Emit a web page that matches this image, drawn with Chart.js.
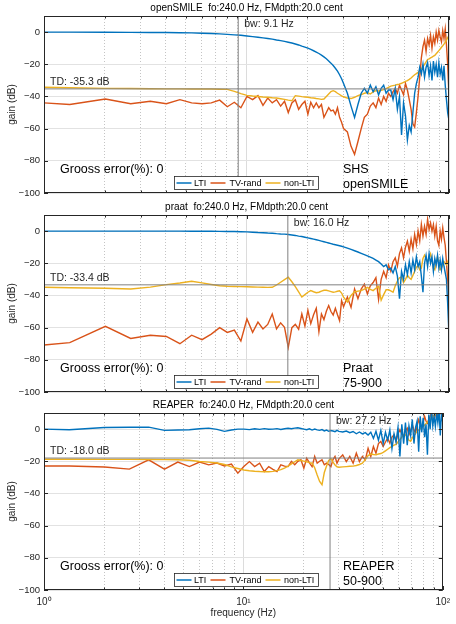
<!DOCTYPE html>
<html>
<head>
<meta charset="utf-8">
<script src="https://cdn.jsdelivr.net/npm/chart.js@4.4.0/dist/chart.umd.min.js"></script>
<style>
    body { margin: 0; background: #fff; }
    #wrap { position: relative; width: 456px; height: 624px; }
    #wrap canvas { position: absolute; left: 0; top: 0; }
</style>
</head>
<body>
<div id="wrap">
    <canvas id="panel-0" width="456" height="624"></canvas>
    <canvas id="panel-1" width="456" height="624"></canvas>
    <canvas id="panel-2" width="456" height="624"></canvas>
</div>
<script>
// modulation frequency grid (Hz), shared by every panel
const freq = [
    1.00, 1.34, 2.01, 2.68, 3.35, 4.02, 4.69, 5.36, 6.03, 6.70,
    7.37, 8.04, 8.71, 9.38, 10.05, 10.72, 11.39, 12.06, 12.73, 13.40,
    14.07, 14.74, 15.41, 16.08, 16.75, 17.42, 18.09, 18.76, 19.43, 20.10,
    20.77, 21.44, 22.11, 22.78, 23.45, 24.12, 24.79, 25.46, 26.13, 26.80,
    27.47, 28.14, 28.81, 29.48, 30.15, 31.49, 32.83, 34.17, 35.51, 36.85,
    38.19, 39.53, 40.87, 42.21, 43.55, 44.89, 46.23, 47.57, 48.91, 50.25,
    51.59, 52.93, 54.27, 55.61, 56.95, 58.29, 59.63, 60.97, 62.31, 63.65,
    64.99, 66.33, 67.67, 69.01, 70.35, 71.69, 73.03, 74.37, 75.71, 77.05,
    78.39, 79.73, 81.07, 82.41, 83.75, 85.09, 86.43, 87.77, 89.11, 90.45,
    91.79, 93.13, 94.47, 95.81, 97.15, 98.49, 100.0
];

// openSMILE (SHS)
const lti1 = [
    0, 0, -0.1, -0.2, -0.3, -0.3, -0.4, -0.5, -0.7, -0.9,
    -1.1, -1.4, -1.7, -2.0, -2.4, -2.8, -3.2, -3.6, -4.0, -4.4,
    -4.9, -5.3, -5.8, -6.3, -6.8, -7.4, -8.0, -8.7, -9.3, -10.0,
    -10.8, -11.6, -12.4, -13.3, -14.3, -15.4, -16.6, -17.9, -19.3, -20.8,
    -22.5, -24.3, -26.5, -29.0, -32.0, -38, -46, -53, -45, -38,
    -35, -38, -33, -37, -34, -39, -35, -33, -38, -36,
    -36, -42, -35, -48, -40, -64, -44, -52, -67, -58,
    -62, -50, -38, -32, -28, -22, -26, -20, -28, -22,
    -19, -27, -21, -30, -18, -25, -20, -28, -19, -26,
    -22, -30, -21, -33, -42, -50, -55
];
const tv1 = [
    -44, -45, -41.6, -44.5, -43, -44.5, -42, -44, -44.5, -44,
    -42.3, -46.4, -43.6, -47, -40, -42, -39.5, -45.5, -41, -44,
    -42, -46, -43, -50, -44, -42, -48, -45, -43, -51,
    -43.6, -47, -44, -47, -45, -53, -50, -47, -49, -48.5,
    -51, -47, -53, -56, -60, -62, -71, -76, -68, -60,
    -53, -51, -46, -44, -47, -41, -45, -40, -43, -38,
    -40, -37, -35, -38, -33, -36, -39, -32, -36, -42,
    -48, -57, -59, -50, -40, -28, -16, -9, -5, -12,
    -4, -8, -2, -10, -3, -7, 0, -5, 1, -3,
    -6, 1, -4, 2, -8, -20, -40
];
const nl1 = [
    -34.3, -34.6, -35, -35.1, -35.2, -35.3, -35.3, -35.4, -35.4, -35.4,
    -35.5, -35.6, -36.8, -38.2, -39.3, -39.7, -40.0, -40.3, -40.5, -40.8,
    -41.0, -41.4, -41.8, -42.3, -42.7, -39.5, -39.8, -40.1, -40.3, -40.5,
    -40.8, -41.0, -41.3, -41.5, -41.8, -41.6, -40, -38.5, -37, -36.4,
    -37, -38, -38.8, -39.6, -40.2, -41, -41.3, -40.5, -39.5, -38.8,
    -38, -37.6, -38.5, -37.2, -36.4, -36.6, -36.2, -35.8, -35.2, -34.4,
    -33.6, -33.3, -33, -32.6, -32.3, -31.8, -31.2, -30.6, -30.2, -29.4,
    -28.5, -27.5, -26.5, -25.8, -25, -24, -23, -21.5, -20, -18.5,
    -17, -16.6, -16, -15.5, -15, -14.5, -13.5, -12.5, -11.5, -10.5,
    -9.4, -8.5, -7.5, -6.5, -5, -3.5, -2
];

// praat
const lti2 = [
    0, 0, 0, 0, 0, 0, 0, -0.1, -0.1, -0.1,
    -0.2, -0.3, -0.3, -0.4, -0.5, -0.7, -0.9, -1.0, -1.2, -1.3,
    -1.6, -1.8, -1.9, -2.1, -2.4, -2.7, -3.1, -3.4, -3.8, -4.2,
    -4.6, -5.0, -5.4, -5.8, -6.2, -6.6, -7.0, -7.4, -7.8, -8.2,
    -8.5, -8.8, -9.1, -9.4, -9.8, -10.6, -11.4, -12.2, -13.0, -13.8,
    -14.6, -15.4, -16.2, -17, -18, -19, -20.5, -22, -21, -24,
    -23, -26, -22, -28, -42, -25, -30, -21, -27, -19,
    -26, -18, -24, -16, -22, -19, -28, -38, -20, -15,
    -22, -14, -20, -16, -25, -17, -21, -15, -23, -18,
    -24, -17, -22, -26, -30, -45, -65
];
const tv2 = [
    -70.8, -69.3, -59.2, -66.7, -64.7, -65.5, -70, -64.7, -67.5, -64,
    -60, -63, -61.5, -68.3, -54.6, -62.9, -56.6, -60.8, -58, -51.5,
    -60.8, -57, -59.8, -72.3, -60, -58, -61, -51.5, -59, -49.2,
    -57.5, -52, -48, -62.6, -51.5, -55, -49.8, -46.3, -50, -52.2,
    -48, -52, -55.6, -43.2, -47, -41, -47.4, -36, -42, -36,
    -33, -39, -34, -32, -29, -42.5, -30, -25, -29, -21,
    -25, -19, -16.6, -21.8, -14, -10.4, -16.6, -10, -6.2, -12.5,
    -5, -11, -2.1, -8.3, 0, -6, 4.2, -3, 3, -2,
    7.3, 1, 5, 0, 4, -3, 3, -6, -8.8, 0,
    -5, 2, -4, -8.8, -19.3, -30, -44
];
const nl2 = [
    -34.9, -35.2, -35.5, -36.0, -34.8, -33.3, -32.3, -31.2, -32.2, -33.2,
    -34, -34.3, -34.4, -34.5, -34.6, -34.7, -34.8, -34.9, -35, -34.9,
    -33.5, -31.8, -30.2, -28.7, -31.5, -34.5, -37.8, -41, -39.5, -38,
    -37, -37.7, -38.3, -38, -37.3, -36.8, -36.8, -37.2, -37.6, -38,
    -37.8, -37.4, -37.1, -38.5, -41, -44, -40, -37.7, -37.3, -37,
    -36, -35, -36.2, -37, -35.5, -34.3, -43, -39.5, -36.5, -36.5,
    -37.2, -38, -34, -31, -29, -28.5, -32, -30, -27.4, -29,
    -30, -27.5, -25, -22.5, -21.4, -24, -23, -17, -15, -17,
    -19, -16.5, -14, -18, -23, -24, -20, -16, -20, -24,
    -23, -21, -19, -20, -21, -19, -17
];

// REAPER
const lti3 = [
    0, -0.4, 1, 1.1, 1.2, -0.8, -0.6, -0.4, 0.2, 0.6,
    -0.2, -1.4, -0.6, 0, 0, -0.3, 0.2, -0.2, 0.3, -0.1,
    0, 0.3, -0.2, 0.2, 0.5, 0.2, 0.6, 0.8, 0.4, 0,
    -0.4, 0.2, -0.6, 0, -0.5, -0.8, -0.3, -1.1, -0.6, -1.4,
    -0.9, -1.2, -1.6, -0.8, -1.4, -1.8, -1.2, -2.2, -1.5, -2.9,
    -1.8, -3, -2.2, -3.7, -2, -5.8, -1.4, -6.9, -0.8, -9,
    -2, -7, -0.5, -12, -3, -8, 1, -17, 3, -9,
    4, -10, 2, -4, 6, -9, 1, 5, -14, 8,
    -2, 7, -5, 3, -16, 9, 0, 12, 2, 8,
    1.6, 10, 4, 12, -4, 10, 4
];
const tv3 = [
    -22.9, -22.9, -23.6, -24.9, -19.1, -24.9, -20.5, -23.3, -20.5, -22.2,
    -21.1, -22.9, -21.8, -27.4, -23.3, -20.2, -23.3, -21.2, -26.4, -23.3,
    -25, -26.4, -22.2, -23, -23.3, -20, -22.2, -20, -19.1, -24.3,
    -18.1, -21, -23.3, -17, -21.2, -20, -19.1, -22.2, -21.2, -22,
    -23.3, -19, -17, -21.2, -18.5, -16, -20.2, -17, -21.2, -15,
    -20.2, -17, -19.1, -11.9, -17, -10.8, -15, -9, -7.7, -10.8,
    -8, -5.6, -8.7, -5, -3.6, -7.7, -3, -0.4, -3, -4.6,
    -1, 0.6, -3.6, -1, 2.7, -0.5, -2.5, 2, 5.8, 3,
    0.6, 4, 7.9, 5, 3.7, 6, 8, 10, 7, 5.8,
    9, 10.5, 8, 10, 11, 9, 7.9
];
const nl3 = [
    -18.7, -18.7, -18.8, -18.8, -18.9, -19, -19.1, -19.4, -20.1, -20.5,
    -21.1, -22, -23.5, -24.5, -25.4, -25.9, -26.2, -26.4, -26.5, -26.5,
    -26.3, -25.8, -25.2, -24.2, -23, -21.6, -20.3, -19.1, -19.5, -19.9,
    -20.3, -20.8, -21.2, -24, -28.5, -32.5, -34.6, -27, -23, -19.5,
    -18.3, -20.5, -22.3, -23.4, -23.7, -23.5, -23.3, -23.1, -23, -22.6,
    -22, -21.2, -19, -16.5, -15.5, -15.8, -16, -15.5, -15.2, -14.5,
    -13.5, -12.5, -11.5, -10.8, -10, -9.5, -8, -6.5, -5, -3.8,
    -3.6, -5, -7, -7.6, -5.5, -4, -2.5, -1.5, -0.5, 0.3,
    0.8, 1.5, 2.5, 3.5, 4.5, 5.2, 5.8, 6.8, 7.8, 8.5,
    9.2, 10, 10.5, 11, 11.5, 12, 12
];

const panelTitles = [
    'openSMILE  fo:240.0 Hz, FMdpth:20.0 cent',
    'praat  fo:240.0 Hz, FMdpth:20.0 cent',
    'REAPER  fo:240.0 Hz, FMdpth:20.0 cent'
];
const seriesNames = ['LTI', 'TV-rand', 'non-LTI'];
const tdValues = [-35.3, -33.4, -18.0];
const bwValues = [9.1, 16.0, 27.2];
const grossErrors = [0, 0, 0];
const methodLabels = [['SHS', 'openSMILE'], ['Praat', '75-900'], ['REAPER', '50-900']];
const xTicks = [1, 2, 3, 4, 5, 6, 7, 8, 9, 10, 20, 30, 40, 50, 60, 70, 80, 90, 100];
const xMajor = [1, 10, 100];
const xTickLabels = ['10\u2070', '10\u00b9', '10\u00b2'];
const yTicks = [-100, -80, -60, -40, -20, 0];

const panelSeries = [[lti1, tv1, nl1], [lti2, tv2, nl2], [lti3, tv3, nl3]];

const FONT = '"Liberation Sans", Arial, Helvetica, sans-serif';
const COLORS = ['#0072BD', '#D95319', '#EDB120'];
const AXIS = '#262626';
const REF = '#808080';
// chart-area top / bottom for each panel, in page pixels
const AREAS = [[16, 193], [215, 392], [413, 590]];

function pts(vals) {
    return freq.map((f, i) => ({ x: f, y: vals[i] }));
}

function makePanel(k) {
    const last = k === 2;
    const [top, bottom] = AREAS[k];
    const series = panelSeries[k];
    // bottom panel keeps room for the x tick labels inside its axis box
    const xAxisH = last ? 24 : 0;

    const decor = {
        id: 'decor' + k,
        afterDraw(chart) {
            const ctx = chart.ctx;
            const a = chart.chartArea;
            const xs = chart.scales.x;
            const ys = chart.scales.y;
            ctx.save();

            // box and inward ticks
            ctx.strokeStyle = AXIS;
            ctx.lineWidth = 1;
            ctx.strokeRect(Math.round(a.left) + 0.5, Math.round(a.top) + 0.5,
                Math.round(a.right - a.left) - 1, Math.round(a.bottom - a.top) - 1);
            ctx.beginPath();
            yTicks.forEach(v => {
                const py = Math.round(ys.getPixelForValue(v)) + 0.5;
                ctx.moveTo(a.left, py); ctx.lineTo(a.left + 4, py);
                ctx.moveTo(a.right - 4, py); ctx.lineTo(a.right, py);
            });
            xTicks.forEach(v => {
                const px = Math.round(xs.getPixelForValue(v)) + 0.5;
                const len = xMajor.includes(v) ? 4 : 2.5;
                ctx.moveTo(px, a.top); ctx.lineTo(px, a.top + len);
                ctx.moveTo(px, a.bottom); ctx.lineTo(px, a.bottom - len);
            });
            ctx.stroke();

            // title
            ctx.fillStyle = '#000';
            ctx.textBaseline = 'middle';
            ctx.textAlign = 'center';
            ctx.font = '10px ' + FONT;
            ctx.fillText(panelTitles[k], (a.left + a.right) / 2, a.top - 8);

            // y label
            ctx.fillStyle = AXIS;
            ctx.save();
            ctx.translate(12, (a.top + a.bottom) / 2);
            ctx.rotate(-Math.PI / 2);
            ctx.fillText('gain (dB)', 0, 0);
            ctx.restore();

            if (last) {
                ctx.fillText('frequency (Hz)', (a.left + a.right) / 2, 613);
            }

            // TD and bw notes
            ctx.textAlign = 'left';
            ctx.font = '10.5px ' + FONT;
            ctx.fillText('TD: ' + tdValues[k].toFixed(1) + ' dB', a.left + 6, ys.getPixelForValue(tdValues[k]) - 7);
            ctx.fillText('bw: ' + bwValues[k].toFixed(1) + ' Hz', xs.getPixelForValue(bwValues[k]) + 6, a.top + 8);

            // gross error and method
            ctx.fillStyle = '#000';
            ctx.font = '12.5px ' + FONT;
            ctx.fillText('Grooss error(%): ' + grossErrors[k], 60, a.bottom - 23);
            ctx.fillText(methodLabels[k][0], 343, a.bottom - 23);
            ctx.fillText(methodLabels[k][1], 343, a.bottom - 8.5);

            // legend
            const ly0 = Math.round(a.bottom - 17) + 0.5;
            ctx.fillStyle = '#fff';
            ctx.fillRect(174.5, ly0, 144, 13);
            ctx.strokeStyle = AXIS;
            ctx.lineWidth = 0.8;
            ctx.strokeRect(174.5, ly0, 144, 13);
            const ly = ly0 + 6.5;
            const slots = [[176.5, 194], [210.5, 229.5], [265.5, 284]];
            ctx.font = '9px ' + FONT;
            slots.forEach(([sx, tx], i) => {
                ctx.strokeStyle = COLORS[i];
                ctx.lineWidth = 1.5;
                ctx.beginPath();
                ctx.moveTo(sx, ly); ctx.lineTo(sx + 15, ly);
                ctx.stroke();
                ctx.fillStyle = '#000';
                ctx.fillText(seriesNames[i], tx, ly + 0.5);
            });
            ctx.restore();
        }
    };

    const datasets = series.map((vals, i) => ({
        label: seriesNames[i],
        data: pts(vals),
        borderColor: COLORS[i],
        borderWidth: 1.4,
        order: [1, 3, 2][i],
        clip: 0
    }));
    datasets.push({
        label: 'TD',
        data: [{ x: 1, y: tdValues[k] }, { x: 100, y: tdValues[k] }],
        borderColor: REF, borderWidth: 1, order: 0, clip: 0
    });
    datasets.push({
        label: 'bw',
        data: [{ x: bwValues[k], y: -100 }, { x: bwValues[k], y: 10 }],
        borderColor: REF, borderWidth: 1, order: 0, clip: 0
    });

    new Chart(document.getElementById('panel-' + k).getContext('2d'), {
        type: 'line',
        data: { datasets: datasets },
        options: {
            responsive: false,
            animation: false,
            layout: { padding: { left: 0, right: 7, top: top, bottom: 624 - bottom - xAxisH } },
            elements: { point: { radius: 0 }, line: { tension: 0 } },
            plugins: { legend: { display: false }, tooltip: { enabled: false } },
            scales: {
                x: {
                    type: 'logarithmic',
                    min: 1,
                    max: 100,
                    afterBuildTicks: s => { s.ticks = xTicks.map(v => ({ value: v, major: xMajor.includes(v) })); },
                    afterFit: s => { s.height = xAxisH; },
                    grid: {
                        drawTicks: false,
                        lineWidth: 1,
                        color: c => (c.tick && xMajor.includes(c.tick.value)) ? '#dcdcdc' : '#c4c4c4'
                    },
                    border: {
                        display: false,
                        dash: c => (c.tick && !xMajor.includes(c.tick.value)) ? [1, 2] : []
                    },
                    ticks: {
                        display: last,
                        autoSkip: false,
                        maxRotation: 0,
                        padding: 6,
                        color: AXIS,
                        font: { family: FONT, size: 10 },
                        callback: v => {
                            const j = xMajor.indexOf(v);
                            return j >= 0 ? xTickLabels[j] : '';
                        }
                    }
                },
                y: {
                    min: -100,
                    max: 10,
                    afterBuildTicks: s => { s.ticks = yTicks.map(v => ({ value: v })); },
                    afterFit: s => { s.width = 44; },
                    grid: { drawTicks: false, color: '#e2e2e2', lineWidth: 1 },
                    border: { display: false },
                    ticks: {
                        padding: 4,
                        color: AXIS,
                        font: { family: FONT, size: 9.5 },
                        callback: v => String(v).replace('-', '\u2212')
                    }
                }
            }
        },
        plugins: [decor]
    });
}

[0, 1, 2].forEach(makePanel);
</script>
</body>
</html>
